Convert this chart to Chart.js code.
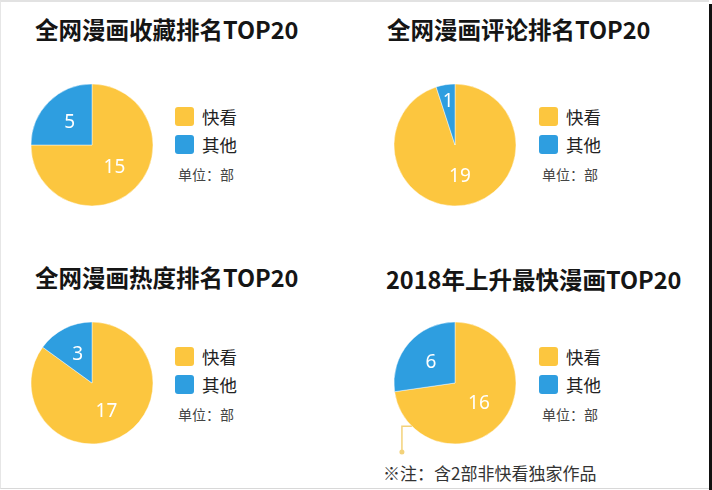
<!DOCTYPE html>
<html>
<head>
<meta charset="utf-8">
<script src="https://cdn.jsdelivr.net/npm/chart.js@4/dist/chart.umd.min.js"></script>
<style>
  body { margin: 0; background: #fff; }
  #page {
    position: relative; width: 712px; height: 490px; overflow: hidden;
    font-family: "Noto Sans CJK SC", "Noto Sans", sans-serif; background: #fff;
  }
  #page:before {
    content: ''; position: absolute; left: 0; top: 0; right: 3px; bottom: 1px;
    border-top: 2px solid #e2e2e2; border-left: 1px solid #e6e6e6; border-bottom: 1px solid #d8d8d8;
  }
  #page:after {
    content: ''; position: absolute; right: 0; top: 4px; width: 3px; bottom: 0; background: #111;
  }
  .title { position: absolute; font-size: 23.5px; font-weight: bold; color: #151515; white-space: nowrap; line-height: 1; }
  .pie { position: absolute; width: 150px; height: 150px; }
  .legend { position: absolute; }
  .item { position: relative; height: 28px; font-size: 17.5px; color: #222; line-height: 28px; padding-left: 27px; }
  .item i { position: absolute; left: 0; top: 4px; width: 19px; height: 19px; border-radius: 3px; }
  .unit { font-size: 14px; color: #444; margin-top: 5px; padding-left: 3px; }
  .note { position: absolute; left: 383px; top: 460px; font-size: 17px; color: #333; white-space: nowrap; }
</style>
</head>
<body>
<div id="page"></div>
<script>
const seriesNames = ['快看', '其他'];
const titles = ['全网漫画收藏排名TOP20', '全网漫画评论排名TOP20', '全网漫画热度排名TOP20', '2018年上升最快漫画TOP20'];
const kuaikan = [15, 19, 17, 16];
const others = [5, 1, 3, 6];
const unitText = '单位：部';
const noteText = '※注：含2部非快看独家作品';
const colors = ['#fcc63f', '#2e9ee0'];

// panel anchors: pie centre, title origin, legend origin
const panels = [
  { cx: 92, cy: 145, tx: 35, ty: 18, lx: 175, ly: 103 },
  { cx: 455, cy: 145, tx: 387, ty: 18, lx: 539, ly: 103 },
  { cx: 92, cy: 383, tx: 35, ty: 266, lx: 175, ly: 343 },
  { cx: 455, cy: 383, tx: 386, ty: 268, lx: 539, ly: 343 }
];

const page = document.getElementById('page');

// white value labels inside the slices
const valueLabels = {
  id: 'valueLabels',
  afterDatasetsDraw(chart) {
    const ctx = chart.ctx;
    const meta = chart.getDatasetMeta(0);
    ctx.save();
    ctx.fillStyle = '#fff';
    ctx.font = '19px "Noto Sans", sans-serif';
    ctx.textAlign = 'center';
    ctx.textBaseline = 'middle';
    meta.data.forEach((arc, i) => {
      const a = (arc.startAngle + arc.endAngle) / 2;
      // thin slices get their label pushed out a bit
      const r = arc.outerRadius * (arc.circumference < 0.5 ? 0.72 : 0.52);
      ctx.fillText(chart.data.datasets[0].data[i], arc.x + Math.cos(a) * r, arc.y + Math.sin(a) * r);
    });
    ctx.restore();
  }
};

// small leader line pointing to the note (last chart only)
const leader = {
  id: 'leader',
  afterDraw(chart) {
    const arc = chart.getDatasetMeta(0).data[0];
    const r = arc.outerRadius;
    const ctx = chart.ctx;
    const x0 = arc.x - r * 0.707, y0 = arc.y + r * 0.707;
    const x1 = arc.x - r * 0.87, y1 = arc.y + r * 1.13;
    ctx.save();
    ctx.strokeStyle = '#f3d27a';
    ctx.fillStyle = '#f3d27a';
    ctx.lineWidth = 1.5;
    ctx.beginPath();
    ctx.moveTo(x0, y0);
    ctx.lineTo(x1, y0);
    ctx.lineTo(x1, y1);
    ctx.stroke();
    ctx.beginPath();
    ctx.arc(x1, y1, 2.5, 0, Math.PI * 2);
    ctx.fill();
    ctx.restore();
  }
};

panels.forEach((p, i) => {
  const title = document.createElement('div');
  title.className = 'title';
  title.style.left = p.tx + 'px';
  title.style.top = p.ty + 'px';
  title.textContent = titles[i];
  page.appendChild(title);

  const legend = document.createElement('div');
  legend.className = 'legend';
  legend.style.left = p.lx + 'px';
  legend.style.top = p.ly + 'px';
  seriesNames.forEach((name, k) => {
    const item = document.createElement('div');
    item.className = 'item';
    item.innerHTML = `<i style="background:${colors[k]}"></i>${name}`;
    legend.appendChild(item);
  });
  const unit = document.createElement('div');
  unit.className = 'unit';
  unit.textContent = unitText;
  legend.appendChild(unit);
  page.appendChild(legend);

  const box = document.createElement('div');
  box.className = 'pie';
  box.style.left = (p.cx - 75) + 'px';
  box.style.top = (p.cy - 75) + 'px';
  const canvas = document.createElement('canvas');
  box.appendChild(canvas);
  page.appendChild(box);

  new Chart(canvas, {
    type: 'pie',
    data: {
      labels: seriesNames,
      datasets: [{
        data: [kuaikan[i], others[i]],
        backgroundColor: colors,
        borderColor: 'rgba(255,255,255,0.45)',
        borderWidth: 1
      }]
    },
    options: {
      responsive: true,
      maintainAspectRatio: false,
      animation: false,
      radius: 61,
      plugins: {
        legend: { display: false },
        tooltip: { enabled: false }
      }
    },
    plugins: i === 3 ? [valueLabels, leader] : [valueLabels]
  });
});

const note = document.createElement('div');
note.className = 'note';
note.textContent = noteText;
page.appendChild(note);
</script>
</body>
</html>
